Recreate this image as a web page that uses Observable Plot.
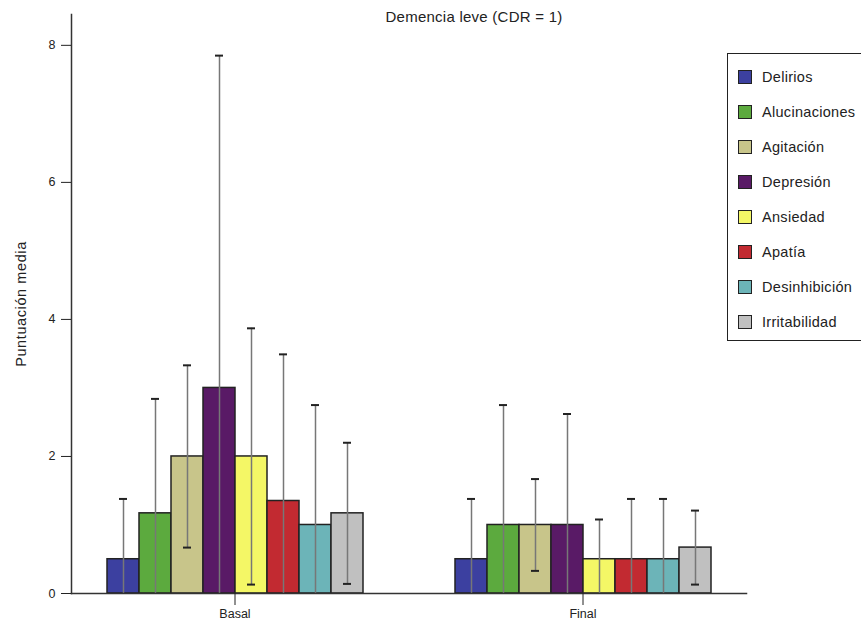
<!DOCTYPE html>
<html>
<head>
<meta charset="utf-8">
<script src="https://cdn.jsdelivr.net/npm/d3@7"></script>
<script src="https://cdn.jsdelivr.net/npm/@observablehq/plot@0.6"></script>
<style>
  html, body { margin: 0; padding: 0; background: #fff; }
  #wrap { position: relative; width: 861px; height: 626px; overflow: hidden; font-family: "Liberation Sans", Arial, sans-serif; color: #222; }
  #title { position: absolute; left: 0; width: 948px; top: 8px; text-align: center; font-size: 15px; letter-spacing: 0.25px; }
  #legend { position: absolute; left: 727px; top: 53px; width: 150px; height: 288px; border: 1.5px solid #222; box-sizing: border-box; }
  .item { position: absolute; left: 10px; height: 16px; display: flex; align-items: center; font-size: 14.5px; letter-spacing: 0.3px; }
  .sw { width: 14px; height: 14px; box-sizing: border-box; border: 1.5px solid #222; margin-right: 10px; }
  g[aria-label="y-axis label"] text { letter-spacing: 0.6px; font-size: 14.5px; }
</style>
</head>
<body>
<div id="wrap">
  <div id="chart"></div>
  <div id="title"></div>
  <div id="legend"></div>
</div>
<script>
const chartTitle = "Demencia leve (CDR = 1)";
const yLabel = "Puntuación media";
const groups = ["Basal", "Final"];
const categories = ["Delirios", "Alucinaciones", "Agitación", "Depresión", "Ansiedad", "Apatía", "Desinhibición", "Irritabilidad"];
const colors = ["#3c40a0", "#5caa3e", "#c8c58a", "#591a66", "#f4f766", "#c22a31", "#6cb4b8", "#c0c0c0"];
const basalMean = [0.5, 1.17, 2.0, 3.0, 2.0, 1.35, 1.0, 1.17];
const basalSD   = [0.88, 1.67, 1.33, 4.85, 1.87, 2.14, 1.75, 1.03];
const finalMean = [0.5, 1.0, 1.0, 1.0, 0.5, 0.5, 0.5, 0.67];
const finalSD   = [0.88, 1.75, 0.67, 1.62, 0.58, 0.88, 0.88, 0.54];
const yTicks = [0, 2, 4, 6, 8];

const rows = [];
categories.forEach((c, i) => rows.push({group: "Basal", cat: c, mean: basalMean[i], sd: basalSD[i]}));
categories.forEach((c, i) => rows.push({group: "Final", cat: c, mean: finalMean[i], sd: finalSD[i]}));
const lower = d => Math.max(0, d.mean - d.sd);
const upper = d => d.mean + d.sd;

const plot = Plot.plot({
  width: 861,
  height: 626,
  marginLeft: 70,
  marginRight: 114,
  marginTop: 14,
  marginBottom: 33,
  style: {fontFamily: "'Liberation Sans', Arial, sans-serif", fontSize: "12.5px", color: "#222", background: "transparent"},
  fx: {domain: groups, paddingInner: 0.06, paddingOuter: 0, label: null},
  x: {domain: categories, padding: 0, insetLeft: 35, insetRight: 35, axis: null},
  y: {domain: [0, 8.45], label: null},
  color: {domain: categories, range: colors},
  marks: [
    Plot.barY(rows, {fx: "group", x: "cat", y: "mean", fill: "cat", stroke: "#222", strokeWidth: 1.5}),
    Plot.ruleX(rows, {fx: "group", x: "cat", y1: lower, y2: upper, stroke: "#777", strokeWidth: 1.5}),
    Plot.tickY(rows, {fx: "group", x: "cat", y: upper, insetLeft: 12, insetRight: 12, stroke: "#222", strokeWidth: 2}),
    Plot.tickY(rows.filter(d => d.mean - d.sd > 0), {fx: "group", x: "cat", y: lower, insetLeft: 12, insetRight: 12, stroke: "#222", strokeWidth: 2}),
    Plot.frame({anchor: "left", facet: "super", stroke: "#333", strokeWidth: 1.5}),
    Plot.frame({anchor: "bottom", facet: "super", stroke: "#333", strokeWidth: 1.5}),
    Plot.axisY({ticks: yTicks, tickSize: 10, tickPadding: 6, label: yLabel, labelAnchor: "center", labelOffset: 56, labelArrow: "none", fontSize: 12.5}),
    Plot.axisFx({anchor: "bottom", tickSize: 12, tickPadding: 4, label: null, fontSize: 12.5})
  ]
});
document.getElementById("chart").appendChild(plot);

document.getElementById("title").textContent = chartTitle;
const legend = document.getElementById("legend");
categories.forEach((c, i) => {
  const item = document.createElement("div");
  item.className = "item";
  item.style.top = (15 + 35 * i) + "px";
  const sw = document.createElement("div");
  sw.className = "sw";
  sw.style.background = colors[i];
  const label = document.createElement("span");
  label.textContent = c;
  item.appendChild(sw);
  item.appendChild(label);
  legend.appendChild(item);
});
</script>
</body>
</html>
